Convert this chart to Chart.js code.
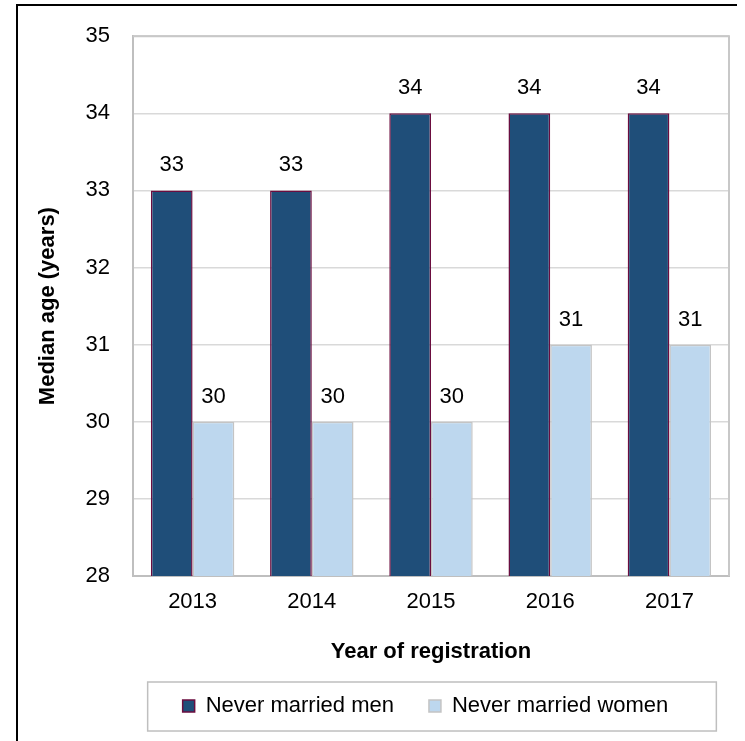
<!DOCTYPE html>
<html>
<head>
<meta charset="utf-8">
<script src="https://cdn.jsdelivr.net/npm/chart.js@4"></script>
<style>
  html, body { margin: 0; padding: 0; background: #fff; }
  #wrap { width: 745px; height: 741px; }
</style>
</head>
<body>
<div id="wrap"><canvas id="chart" width="745" height="741"></canvas></div>
<script>
// ---------- DATA ----------
const years = ["2013", "2014", "2015", "2016", "2017"];
const menAges = [33, 33, 34, 34, 34];
const womenAges = [30, 30, 30, 31, 31];
const yTicks = [28, 29, 30, 31, 32, 33, 34, 35];

const FONT = "'Liberation Sans', Arial, sans-serif";
const FS = 22;
const legendPad = 35;

Chart.defaults.color = "#000";
Chart.defaults.font.family = FONT;
Chart.defaults.font.size = FS;

// ---------- VALUE LABELS ----------
const valueLabels = {
  id: "valueLabels",
  afterDatasetsDraw(chart) {
    const ctx = chart.ctx;
    ctx.save();
    ctx.font = FS + "px " + FONT;
    ctx.fillStyle = "#000";
    ctx.textAlign = "center";
    ctx.textBaseline = "middle";
    chart.data.datasets.forEach((ds, i) => {
      chart.getDatasetMeta(i).data.forEach((bar, j) => {
        ctx.fillText(ds.data[j], bar.x, bar.y - 25);
      });
    });
    ctx.restore();
  }
};

// ---------- FRAME, PLOT BORDER, LEGEND BOX ----------
const frame = {
  id: "frame",
  afterLayout(chart) {
    const lg = chart.legend;
    const a = chart.chartArea;
    lg.left = 122;
    lg.right = a.right;
    lg.width = lg.right - lg.left;
    lg.top = 706 - legendPad - FS / 2;
  },
  beforeDatasetsDraw(chart) {
    const {ctx, chartArea: a} = chart;
    ctx.save();
    ctx.strokeStyle = "#c8c8c8";
    ctx.lineWidth = 2;
    ctx.beginPath();
    ctx.moveTo(a.left, a.top);
    ctx.lineTo(a.right, a.top);
    ctx.lineTo(a.right, a.bottom);
    ctx.stroke();
    ctx.restore();
  },
  afterDraw(chart) {
    const ctx = chart.ctx;
    const hb = chart.legend.legendHitBoxes;
    ctx.save();
    // legend border
    if (hb && hb.length) {
      const l = hb[0].left - 35;
      const r = hb[hb.length - 1].left + hb[hb.length - 1].width + 48;
      const t = 682;
      const b = 731;
      ctx.strokeStyle = "#bfbfbf";
      ctx.lineWidth = 1.5;
      ctx.strokeRect(l, t, r - l, b - t);
    }
    // outer frame (top and left edges visible)
    ctx.strokeStyle = "#000";
    ctx.lineWidth = 2;
    ctx.beginPath();
    ctx.moveTo(17, 741);
    ctx.lineTo(17, 5);
    ctx.lineTo(737, 5);
    ctx.stroke();
    ctx.restore();
  }
};

new Chart(document.getElementById("chart"), {
  type: "bar",
  data: {
    labels: years,
    datasets: [
      {
        label: "Never married men",
        data: menAges,
        backgroundColor: "#1f4e79",
        borderColor: "#6b0d3f",
        borderWidth: 1.5,
        categoryPercentage: 0.7,
        barPercentage: 1.0
      },
      {
        label: "Never married women",
        data: womenAges,
        backgroundColor: "#bdd7ee",
        borderColor: "#c4c4c4",
        borderWidth: 1.5,
        categoryPercentage: 0.7,
        barPercentage: 1.0
      }
    ]
  },
  options: {
    responsive: false,
    animation: false,
    devicePixelRatio: 1,
    layout: { padding: { left: 0, right: 16, top: 34, bottom: 0 } },
    plugins: {
      legend: {
        position: "bottom",
        labels: {
          boxWidth: 12,
          boxHeight: 12,
          padding: legendPad,
          color: "#000",
          font: { size: FS }
        }
      },
      tooltip: { enabled: false }
    },
    scales: {
      x: {
        grid: { display: false, drawTicks: false },
        border: { color: "#bfbfbf", width: 2 },
        ticks: { padding: 13, font: { size: FS } },
        title: {
          display: true,
          text: "Year of registration",
          font: { size: FS, weight: "bold" },
          padding: { top: 0, bottom: 9 }
        },
        afterFit(scale) { scale.height = 98; }
      },
      y: {
        min: 28,
        max: 35,
        grid: { color: "#d9d9d9", lineWidth: 1.5, drawTicks: false },
        border: { color: "#bfbfbf", width: 2 },
        ticks: { padding: 23, font: { size: FS } },
        afterBuildTicks(scale) { scale.ticks = yTicks.map(v => ({ value: v })); },
        title: {
          display: true,
          text: "Median age (years)",
          font: { size: FS, weight: "bold" },
          padding: { top: 35, bottom: 0 }
        },
        afterFit(scale) { scale.width = 133; }
      }
    }
  },
  plugins: [valueLabels, frame]
});
</script>
</body>
</html>
